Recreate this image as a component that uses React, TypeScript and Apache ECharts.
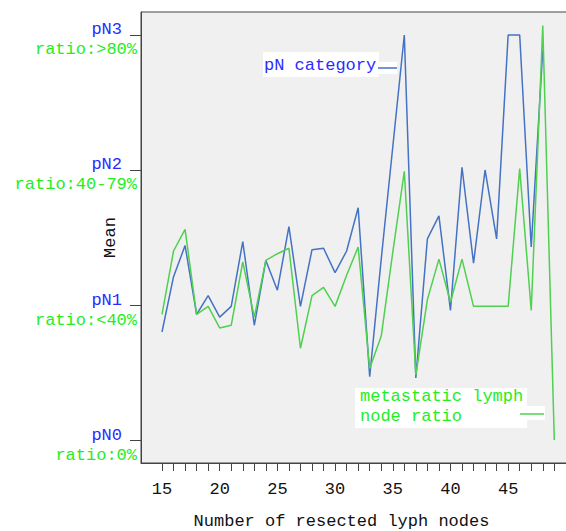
import React, { useEffect, useRef } from "react";
import * as echarts from "echarts";

// Number of resected lymph nodes (x categories)
const nodes = [15, 16, 17, 18, 19, 20, 21, 22, 23, 24, 25, 26, 27, 28, 29, 30, 31, 32, 33, 34, 35, 36, 37, 38, 39, 40, 41, 42, 43, 44, 45, 46, 47, 48, 49];
// Mean pN category (0..3)
const pnCategory = [0.8, 1.21, 1.44, 0.93, 1.07, 0.91, 0.99, 1.47, 0.85, 1.33, 1.11, 1.58, 0.99, 1.41, 1.42, 1.24, 1.4, 1.72, 0.47, 1.34, 2.17, 3.0, 0.46, 1.49, 1.66, 0.96, 2.02, 1.31, 2.0, 1.49, 3.0, 3.0, 1.43, 2.89, null];
// Mean metastatic lymph node ratio category (0..3)
const lymphRatio = [0.93, 1.4, 1.56, 0.93, 0.99, 0.83, 0.85, 1.32, 0.91, 1.33, 1.38, 1.42, 0.68, 1.07, 1.13, 0.99, 1.22, 1.43, 0.53, 0.77, 1.39, 1.99, 0.48, 1.04, 1.34, 1.02, 1.34, 0.99, 0.99, 0.99, 0.99, 2.01, 0.96, 3.07, 0.0];

const xTickLabels = [15, 20, 25, 30, 35, 40, 45];
const yTicks = [0, 1, 2, 3];
const pnLabels = ["pN0", "pN1", "pN2", "pN3"];
const ratioLabels = ["ratio:0%", "ratio:<40%", "ratio:40-79%", "ratio:>80%"];

const FONT = "Liberation Mono";
const BLUE_TEXT = "#2b2bff";
const GREEN_TEXT = "#22ee22";
const BLUE_LINE = "#4472c4";
const GREEN_LINE = "#4fd04f";

export default function App() {
  const ref = useRef<HTMLDivElement>(null);
  useEffect(() => {
    document.body.style.margin = "0";
    if (!ref.current) return;
    const chart = echarts.init(ref.current, undefined, { renderer: "svg" });
    const blueData = nodes
      .map((n, i) => [n, pnCategory[i]])
      .filter((d) => d[1] !== null);
    const greenData = nodes.map((n, i) => [n, lymphRatio[i]]);
    chart.setOption({
      animation: false,
      backgroundColor: "#ffffff",
      textStyle: { fontFamily: FONT },
      grid: {
        show: true,
        left: 141,
        top: 12,
        right: -4,
        bottom: 68,
        outerBoundsMode: "none",
        containLabel: false,
        backgroundColor: "#f0f0f0",
        borderColor: "#444444",
        borderWidth: 1,
      },
      xAxis: {
        type: "value",
        min: 13.18,
        max: 50.36,
        name: "Number of resected lyph nodes",
        nameLocation: "middle",
        nameGap: 50,
        nameMoveOverlap: false,
        nameTextStyle: {
          fontFamily: FONT,
          fontSize: 17,
          color: "#111111",
          padding: [0, 28, 0, 0],
        },
        axisLine: { show: true, onZero: false, lineStyle: { color: "#444444", width: 1 } },
        axisTick: {
          show: true,
          length: 8,
          customValues: nodes,
          lineStyle: { color: "#444444" },
        },
        axisLabel: {
          customValues: xTickLabels,
          fontFamily: FONT,
          fontSize: 17,
          color: "#111111",
          margin: 18,
        },
        splitLine: { show: false },
      },
      yAxis: {
        type: "value",
        min: -0.17,
        max: 3.17,
        name: "Mean",
        nameLocation: "middle",
        nameGap: 22,
        nameMoveOverlap: false,
        nameTextStyle: { fontFamily: FONT, fontSize: 17, color: "#111111" },
        axisLine: { show: true, onZero: false, lineStyle: { color: "#444444", width: 1 } },
        axisTick: {
          show: true,
          length: 11,
          customValues: yTicks,
          lineStyle: { color: "#444444" },
        },
        axisLabel: {
          customValues: yTicks,
          margin: 4,
          align: "right",
          padding: [10, 0, 0, 0],
          formatter: (v: number) => {
            const i = Math.round(v);
            return `{a|${pnLabels[i]}}\n{b|${ratioLabels[i]}}`;
          },
          rich: {
            a: {
              fontFamily: FONT,
              fontSize: 17,
              color: BLUE_TEXT,
              lineHeight: 20,
              padding: [0, 15, 0, 0],
            },
            b: {
              fontFamily: FONT,
              fontSize: 17,
              color: GREEN_TEXT,
              lineHeight: 20,
            },
          },
        },
        splitLine: { show: false },
      },
      series: [
        {
          name: "pN category",
          type: "line",
          data: blueData,
          showSymbol: false,
          symbol: "none",
          lineStyle: { color: BLUE_LINE, width: 1.5 },
          itemStyle: { color: BLUE_LINE },
          z: 2,
        },
        {
          name: "metastatic lymph node ratio",
          type: "line",
          data: greenData,
          showSymbol: false,
          symbol: "none",
          lineStyle: { color: GREEN_LINE, width: 1.5 },
          itemStyle: { color: GREEN_LINE },
          z: 3,
        },
      ],
      graphic: [
        {
          type: "group",
          z: 100,
          children: [
            { type: "rect", shape: { x: 263, y: 52, width: 116, height: 25 }, style: { fill: "#ffffff" } },
            { type: "rect", shape: { x: 378, y: 62, width: 19, height: 12 }, style: { fill: "#ffffff" } },
            {
              type: "text",
              x: 264,
              y: 65,
              style: {
                text: "pN category",
                fill: BLUE_TEXT,
                font: `17px "${FONT}"`,
                verticalAlign: "middle",
              },
            },
            { type: "line", shape: { x1: 378, y1: 68, x2: 397, y2: 68 }, style: { stroke: BLUE_LINE, lineWidth: 1.5 } },
          ],
        },
        {
          type: "group",
          z: 100,
          children: [
            { type: "rect", shape: { x: 355, y: 388, width: 172, height: 40 }, style: { fill: "#ffffff" } },
            { type: "rect", shape: { x: 518, y: 406, width: 27, height: 14 }, style: { fill: "#ffffff" } },
            {
              type: "text",
              x: 360,
              y: 396,
              style: {
                text: "metastatic lymph",
                fill: GREEN_TEXT,
                font: `17px "${FONT}"`,
                verticalAlign: "middle",
              },
            },
            {
              type: "text",
              x: 360,
              y: 416,
              style: {
                text: "node ratio",
                fill: GREEN_TEXT,
                font: `17px "${FONT}"`,
                verticalAlign: "middle",
              },
            },
            { type: "line", shape: { x1: 520, y1: 414, x2: 544, y2: 414 }, style: { stroke: GREEN_LINE, lineWidth: 1.5 } },
          ],
        },
      ],
    });
    return () => chart.dispose();
  }, []);
  return <div ref={ref} style={{ width: 566, height: 531 }} />;
}
